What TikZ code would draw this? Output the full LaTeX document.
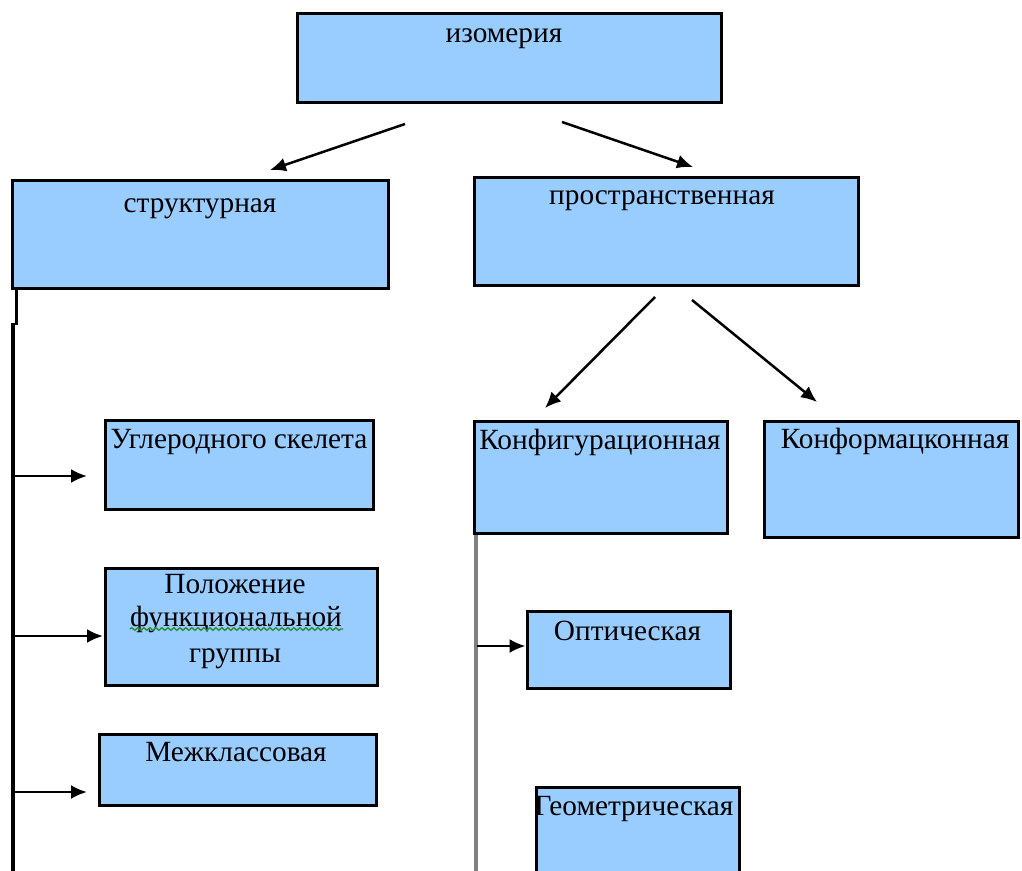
\documentclass[tikz,border=0pt]{standalone}
\usepackage{fontspec}
\setmainfont{Liberation Serif}
\usetikzlibrary{arrows.meta,decorations.pathmorphing}
\definecolor{boxblue}{RGB}{153,204,255}
\definecolor{squig}{RGB}{40,140,50}
\begin{document}
\begin{tikzpicture}[x=1pt,y=-1pt,
  box/.style={draw=black,line width=3pt,fill=boxblue,inner sep=0pt,minimum width=#1},
  lbl/.style={anchor=base,inner sep=0pt,font=\fontsize{29.3}{36}\selectfont,align=center},
  arr/.style={line width=2.5pt,-{Latex[length=16pt,width=14pt]}},
  vline/.style={line width=3.5pt}]
\useasboundingbox (0,0) rectangle (1022,870);
% boxes
\node[box=424pt,minimum height=89pt] (iso) at (509,57.5) {};
\node[box=376pt,minimum height=108pt] (str) at (200,234) {};
\node[box=384pt,minimum height=108pt] (spa) at (666,231) {};
\node[box=268pt,minimum height=89pt] (ugl) at (239,464.5) {};
\node[box=272pt,minimum height=117pt] (pol) at (241,626.5) {};
\node[box=277pt,minimum height=71pt] (mez) at (237.5,769.5) {};
\node[box=253pt,minimum height=112pt] (konf) at (600.5,477) {};
\node[box=254pt,minimum height=116pt] (konm) at (891,479) {};
\node[box=203pt,minimum height=77pt] (opt) at (628.5,649.5) {};
\node[box=203pt,minimum height=98pt] (geo) at (637.5,836) {};
% labels
\node[lbl] (tiso) at (504,42) {изомерия};
\node[lbl] (tstr) at (200,212) {структурная};
\node[lbl] (tspa) at (662,204) {пространственная};
\node[lbl] (tugl) at (239,448) {Углеродного скелета};
\node[lbl] (tpol1) at (235,593) {Положение};
\node[lbl] (tpol2) at (236,626) {функциональной};
\node[lbl] (tpol3) at (235,662) {группы};
\node[lbl] (tmez) at (236,761) {Межклассовая};
\node[lbl] (tkonf) at (600,449) {Конфигурационная};
\node[lbl] (tkonm) at (895,448) {Конформацконная};
\node[lbl] (topt) at (627.5,640) {Оптическая};
\node[lbl] (tgeo) at (634,815) {Геометрическая};
% spell-check squiggle
\coordinate (sq1) at (130,629);
\coordinate (sq2) at (343,629);
\draw[squig,line width=1.4pt,decorate,decoration={snake,amplitude=1.3pt,segment length=6pt}] (sq1) -- (sq2);
% diagonal arrows
\coordinate (a1) at (405,124); \coordinate (a1e) at (270,170);
\coordinate (a2) at (562,122); \coordinate (a2e) at (693,167);
\coordinate (a3) at (655,297); \coordinate (a3e) at (545,408);
\coordinate (a4) at (692,300); \coordinate (a4e) at (817,402);
\draw[arr] (a1) -- (a1e);
\draw[arr] (a2) -- (a2e);
\draw[arr] (a3) -- (a3e);
\draw[arr] (a4) -- (a4e);
% left trunk
\coordinate (l0) at (16.3,288);
\coordinate (l1) at (16.3,325);
\coordinate (l2) at (13,323);
\coordinate (l3) at (13,875);
\draw[vline] (l0) -- (l1);
\draw[vline] (l2) -- (l3);
\coordinate (h1) at (14,476); \coordinate (h1e) at (87,476);
\coordinate (h2) at (14,636); \coordinate (h2e) at (103,636);
\coordinate (h3) at (14,792); \coordinate (h3e) at (87,792);
\draw[arr] (h1) -- (h1e);
\draw[arr] (h2) -- (h2e);
\draw[arr] (h3) -- (h3e);
% right trunk
\coordinate (r0) at (476,535);
\coordinate (r1) at (476,875);
\draw[vline,color=gray] (r0) -- (r1);
\coordinate (h4) at (477,646);
\draw[arr] (h4) -- (opt.west |- h4);
\end{tikzpicture}
\end{document}
